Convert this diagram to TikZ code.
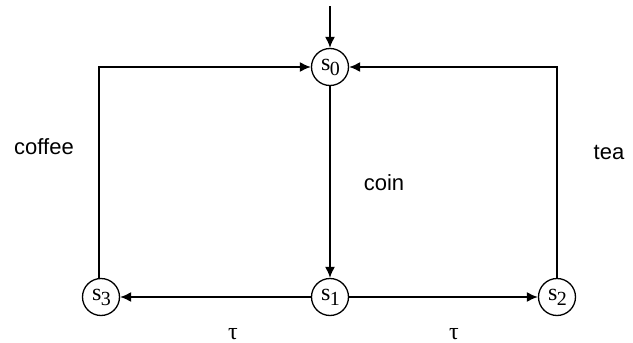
\documentclass[tikz,border=0pt]{standalone}
\usepackage{fontspec}
\setmainfont{Liberation Serif}
\newfontfamily\labelsans{Liberation Sans}
\usetikzlibrary{arrows.meta}
\tikzset{
  state/.style={circle,draw,line width=1.3pt,minimum size=37pt,inner sep=0pt,font=\fontsize{24}{26}\selectfont},
  trans/.style={line width=1.6pt,-{Latex[length=11pt,width=10pt]}},
  lbl/.style={font=\labelsans\fontsize{22}{24}\selectfont},
  taulbl/.style={inner sep=0pt,font=\fontsize{24}{26}\selectfont}
}
\newcommand{\stname}[1]{\kern1pt s\kern-0.5pt\raisebox{-5pt}{\fontsize{20}{22}\selectfont #1}}
\begin{document}
\begin{tikzpicture}[x=1pt,y=-1pt]
\useasboundingbox (0,0) rectangle (633,343);
\node[state] (s0) at (330,67) {\stname{0}};
\node[state] (s1) at (330,297) {\stname{1}};
\node[state] (s3) at (101,297) {\stname{3}};
\node[state] (s2) at (557,297) {\stname{2}};
\coordinate (init) at (330,6);
\coordinate (cl) at (99,67);
\coordinate (cr) at (557,67);
\draw[trans] (init) -- (s0);
\draw[trans] (s0) -- (s1);
\draw[trans] (s1) -- (s3);
\draw[trans] (s1) -- (s2);
\draw[trans] (s3.north -| cl) -- (cl) -- (s0);
\draw[trans] (s2.north) -- (cr) -- (s0);
\node[lbl] (coffee) at (44,147) {coffee};
\node[lbl] (tea) at (609,152) {tea};
\node[lbl] (coin) at (384,183) {coin};
\node[taulbl,anchor=base] (t1) at (233,339) {\char"03C4};
\node[taulbl,anchor=base] (t2) at (454,339) {\char"03C4};
\end{tikzpicture}
\end{document}
